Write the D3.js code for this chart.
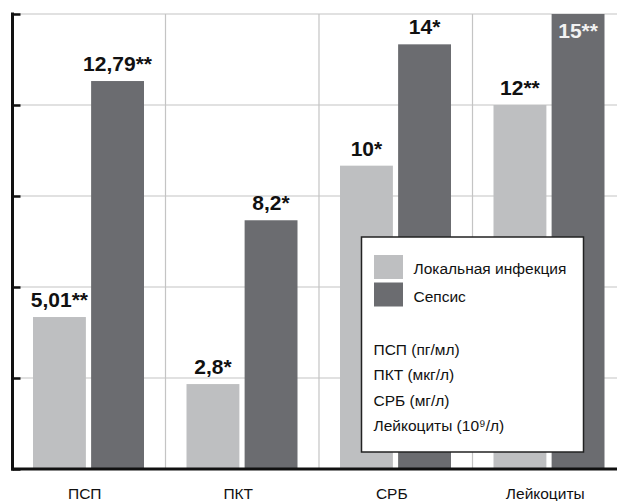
<!DOCTYPE html>
<html>
<head>
<meta charset="utf-8">
<script src="https://cdn.jsdelivr.net/npm/d3@7/dist/d3.min.js"></script>
<style>
  html, body { margin: 0; padding: 0; background: #ffffff; }
  svg { display: block; font-family: "Liberation Sans", Arial, Helvetica, sans-serif; }
</style>
</head>
<body>
<svg id="chart" width="617" height="501"></svg>
<script>
// Marker categories along the x axis
const categories = ["ПСП", "ПКТ", "СРБ", "Лейкоциты"];
// Series keys and names
const seriesKeys = ["local", "sepsis"];
const seriesNames = ["Локальная инфекция", "Сепсис"];
// Values per category for each series
const localValues = [5.01, 2.8, 10, 12];
const sepsisValues = [12.79, 8.2, 14, 15];
// Value labels with significance marks
const localLabels = ["5,01**", "2,8*", "10*", "12**"];
const sepsisLabels = ["12,79**", "8,2*", "14*", "15**"];
// Y axis tick values
const yTicks = [0, 3, 6, 9, 12, 15];
// Units listed in the legend
const unitNotes = ["ПСП (пг/мл)", "ПКТ (мкг/л)", "СРБ (мг/л)", "Лейкоциты (10⁹/л)"];

const colors = { local: "#bebfc1", sepsis: "#6b6c70" };

const rows = categories.map((c, i) => ({
  cat: c,
  local: localValues[i], sepsis: sepsisValues[i],
  localLabel: localLabels[i], sepsisLabel: sepsisLabels[i]
}));

const svg = d3.select("#chart");
const W = 617;
const plotLeft = 12.5, baseline = 469, plotTop = 14;

const x = d3.scaleBand().domain(categories).range([12, 626]).paddingInner(0).paddingOuter(0);
const xs = d3.scaleBand().domain(seriesKeys).range([21, 132]).paddingInner(0.09).paddingOuter(0);
const y = d3.scaleLinear().domain([0, 15]).range([baseline, plotTop]);

// horizontal grid lines
svg.append("g")
  .selectAll("line").data(yTicks.slice(1)).join("line")
  .attr("x1", plotLeft).attr("x2", W)
  .attr("y1", d => y(d)).attr("y2", d => y(d))
  .attr("stroke", "#c4c4c4").attr("stroke-width", 1.2);

// vertical separators between categories
svg.append("g")
  .selectAll("line").data(categories.slice(1)).join("line")
  .attr("x1", d => x(d)).attr("x2", d => x(d))
  .attr("y1", plotTop).attr("y2", baseline)
  .attr("stroke", "#c4c4c4").attr("stroke-width", 1.2);

// bars
const groups = svg.append("g").selectAll("g").data(rows).join("g")
  .attr("transform", d => `translate(${x(d.cat)},0)`);

const barData = d => seriesKeys.map(k => ({ key: k, value: d[k], label: d[k + "Label"] }));
const inside = d => y(d.value) - 10 - 15 < plotTop;

groups.selectAll("rect")
  .data(barData)
  .join("rect")
  .attr("x", d => xs(d.key))
  .attr("width", xs.bandwidth())
  .attr("y", d => y(d.value))
  .attr("height", d => baseline - y(d.value))
  .attr("fill", d => colors[d.key]);

// value labels; a label that would run past the top sits inside its bar
groups.selectAll("text")
  .data(barData)
  .join("text")
  .attr("x", d => xs(d.key) + xs.bandwidth() / 2)
  .attr("y", d => inside(d) ? y(d.value) + 24 : y(d.value) - 10)
  .attr("text-anchor", "middle")
  .attr("font-size", 21)
  .attr("font-weight", "bold")
  .attr("fill", d => inside(d) ? "#f2f2f2" : "#111111")
  .text(d => d.label);

// y axis
const yAxis = d3.axisRight(y).tickValues(yTicks).tickSize(8).tickFormat("");
const yg = svg.append("g").attr("transform", `translate(${plotLeft},0)`).call(yAxis);
yg.select(".domain").remove();
yg.selectAll(".tick line").attr("stroke", "#111").attr("stroke-width", 2.5);
svg.append("line")
  .attr("x1", plotLeft).attr("x2", plotLeft)
  .attr("y1", plotTop - 1.5).attr("y2", baseline + 1.5)
  .attr("stroke", "#111").attr("stroke-width", 3);

// x axis
const xAxis = d3.axisBottom(x).tickSize(0).tickPadding(0);
const xg = svg.append("g").attr("transform", `translate(0,${baseline})`).call(xAxis);
xg.select(".domain").remove();
xg.selectAll(".tick text")
  .attr("y", 30)
  .attr("dy", 0)
  .attr("x", -4)
  .attr("font-size", 15.5)
  .attr("font-family", "\"Liberation Sans\", Arial, sans-serif")
  .attr("fill", "#111");
svg.append("line")
  .attr("x1", plotLeft - 1.5).attr("x2", W)
  .attr("y1", baseline).attr("y2", baseline)
  .attr("stroke", "#111").attr("stroke-width", 3);

// legend
const lg = svg.append("g");
lg.append("rect")
  .attr("x", 361.5).attr("y", 237).attr("width", 222).attr("height", 215)
  .attr("fill", "#ffffff").attr("stroke", "#222").attr("stroke-width", 1.5);

const swatch = lg.selectAll("g.sw").data(seriesKeys).join("g").attr("class", "sw")
  .attr("transform", (d, i) => `translate(374,${255 + i * 27.5})`);
swatch.append("rect").attr("width", 29).attr("height", 24).attr("fill", d => colors[d]);
swatch.append("text")
  .attr("x", 39.5).attr("y", 19)
  .attr("font-size", 15.5).attr("fill", "#111")
  .text((d, i) => seriesNames[i]);

lg.selectAll("text.unit").data(unitNotes).join("text").attr("class", "unit")
  .attr("x", 373.5).attr("y", (d, i) => 354.5 + i * 25.5)
  .attr("font-size", 15.5).attr("fill", "#111")
  .text(d => d);
</script>
</body>
</html>
